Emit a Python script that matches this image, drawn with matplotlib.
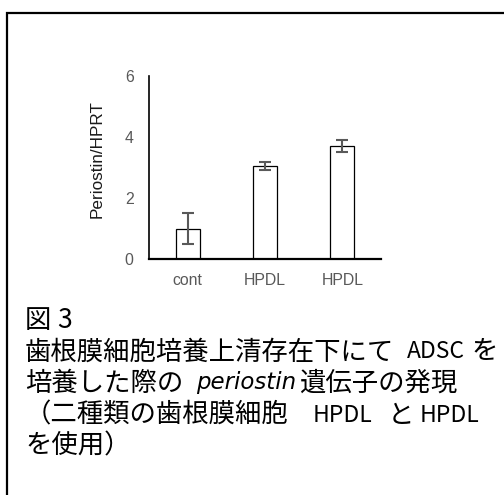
import matplotlib.pyplot as plt
from matplotlib.patches import Rectangle
import numpy as np

# data
categories = ['cont', 'HPDL', 'HPDL']
values = [1.0, 3.05, 3.7]
errors = [0.5, 0.13, 0.2]
yticks = [0, 2, 4, 6]

W, H = 504, 495
fig = plt.figure(figsize=(W / 100, H / 100), dpi=100)

# outer frame (cut off at right and bottom in the original)
fig.patches.append(Rectangle((7 / W, -0.2), 1.2, 1.2 - 12.5 / H, transform=fig.transFigure,
                             fill=False, edgecolor='black', linewidth=1.6))

ax = fig.add_axes([149 / W, 236 / H, 232 / W, 183 / H])
x = np.arange(len(categories))
ax.bar(x, values, width=0.31, color='white', edgecolor='black', linewidth=0.9, zorder=2)
ax.errorbar(x, values, yerr=errors, fmt='none', ecolor='#595959', elinewidth=1.5,
            capsize=4, capthick=1.5, zorder=3)
ax.set_xlim(-0.5, 2.5)
ax.set_ylim(0, 6)
ax.set_yticks(yticks)
ax.set_xticks(x)
ax.set_xticklabels(categories)
for s in ['top', 'right']:
    ax.spines[s].set_visible(False)
ax.spines['left'].set_linewidth(1.2)
ax.spines['bottom'].set_linewidth(1.6)
ax.tick_params(axis='both', length=0, labelsize=11.4, labelcolor='#595959')
ax.tick_params(axis='y', pad=11)
ax.tick_params(axis='x', pad=10)
for lab in ax.get_xticklabels() + ax.get_yticklabels():
    lab.set_family('Liberation Sans')
fig.text(97 / W, 1 - 159 / H, 'Periostin/HPRT', rotation=90, ha='center', va='center',
         fontsize=12.3, family='Liberation Sans', color='#1a1a1a')

# caption, placed piece by piece (x in pixels, line centre y in pixels)
jp = ['Noto Sans CJK JP', 'DejaVu Sans']
fs = 19
latin = 16.5
pieces = [
    (25, 320, '図', fs, 'normal'), (57, 320, '3', fs, 'normal'),
    (25, 352, '歯根膜細胞培養上清存在下にて', fs, 'normal'), (407, 352, 'ADSC', latin, 'normal'),
    (471, 352, 'を', fs, 'normal'),
    (25, 383, '培養した際の', fs, 'normal'), (196, 383, 'periostin', 16.5, 'italic'),
    (300, 383, '遺伝子の発現', fs, 'normal'),
    (25, 415, '（二種類の歯根膜細胞', fs, 'normal'), (313, 415, 'HPDL', latin, 'normal'),
    (388, 415, 'と', fs, 'normal'), (420, 415, 'HPDL', latin, 'normal'),
    (25, 446, 'を使用）', fs, 'normal'),
]
for px, py, s, size, style in pieces:
    fam = ['DejaVu Sans'] if style == 'italic' else jp
    fig.text(px / W, 1 - py / H, s, ha='left', va='center', fontsize=size,
             family=fam, style=style, color='black')

fig.savefig('out.png', dpi=100)
